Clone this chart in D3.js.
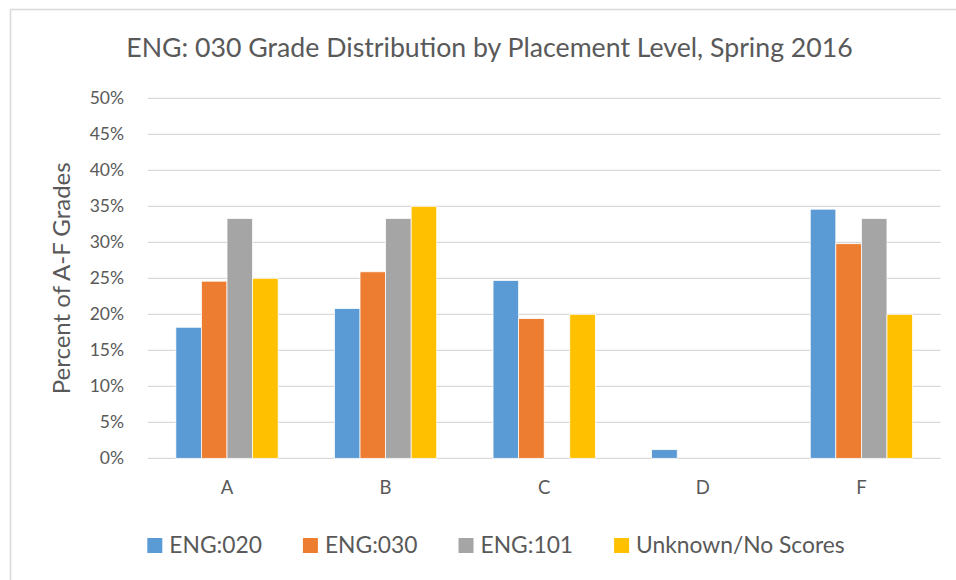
<!DOCTYPE html>
<html>
<head>
<meta charset="utf-8">
<script src="https://cdn.jsdelivr.net/npm/d3@7"></script>
<style>
  body { margin: 0; background: #fff; }
  text { font-family: Lato, "Open Sans", sans-serif; fill: #595959; }
</style>
</head>
<body>
<div id="chart"></div>
<script>
// Datos
var grades = ["A", "B", "C", "D", "F"];
var seriesNames = ["ENG:020", "ENG:030", "ENG:101", "Unknown/No Scores"];
var eng020 = [0.182, 0.208, 0.247, 0.012, 0.346];
var eng030 = [0.246, 0.259, 0.194, 0, 0.298];
var eng101 = [0.333, 0.333, 0, 0, 0.333];
var unknown = [0.25, 0.35, 0.20, 0, 0.20];
var yTicks = [0, 0.05, 0.10, 0.15, 0.20, 0.25, 0.30, 0.35, 0.40, 0.45, 0.50];

var seriesValues = [eng020, eng030, eng101, unknown];
var colors = ["#5B9BD5", "#ED7D31", "#A5A5A5", "#FFC000"];

var W = 956, H = 580;
var margin = {top: 98.3, right: 15.3, bottom: 121.7, left: 147.7};
var width = W - margin.left - margin.right;
var height = H - margin.top - margin.bottom;

var svg = d3.select("#chart").append("svg")
  .attr("width", W)
  .attr("height", H);

svg.append("rect").attr("width", W).attr("height", H).attr("fill", "#fff");

// marco del grafico
svg.append("rect")
  .attr("x", 10.5).attr("y", 9.5)
  .attr("width", W + 20).attr("height", H + 20)
  .attr("fill", "none")
  .attr("stroke", "#d9d9d9")
  .attr("stroke-width", 1.5);

var g = svg.append("g")
  .attr("transform", "translate(" + margin.left + "," + margin.top + ")");

// Escalas
var x0 = d3.scaleBand()
  .domain(grades)
  .range([0, width])
  .paddingInner(0.355)
  .paddingOuter(0.1775);

var x1 = d3.scaleBand()
  .domain(seriesNames)
  .range([0, x0.bandwidth()]);

var y = d3.scaleLinear()
  .domain([0, 0.5])
  .range([height, 0]);

// Lineas de la cuadricula
g.selectAll(".grid")
  .data(yTicks)
  .enter()
  .append("line")
  .attr("x1", 0).attr("x2", width)
  .attr("y1", function(d) { return y(d); })
  .attr("y2", function(d) { return y(d); })
  .attr("stroke", "#d9d9d9")
  .attr("stroke-width", 1.3);

// Eje Y
var yAxis = g.append("g")
  .call(d3.axisLeft(y).tickValues(yTicks).tickFormat(d3.format(".0%")).tickSize(0).tickPadding(23.7));
yAxis.select(".domain").remove();
yAxis.selectAll("text")
  .style("font-size", "17.5px")
  .style("font-family", "Lato, sans-serif")
  .attr("fill", "#595959");

// Eje X
var xAxis = g.append("g")
  .attr("transform", "translate(0," + height + ")")
  .call(d3.axisBottom(x0).tickSize(0).tickPadding(23));
xAxis.select(".domain").remove();
xAxis.selectAll("text")
  .style("font-size", "18.5px")
  .style("font-family", "Lato, sans-serif")
  .attr("fill", "#595959");

// Barras
var groups = g.selectAll(".grade")
  .data(grades)
  .enter()
  .append("g")
  .attr("transform", function(d) { return "translate(" + x0(d) + ",0)"; });

groups.selectAll("rect")
  .data(function(d, i) {
    return seriesNames.map(function(s, j) { return {key: s, value: seriesValues[j][i], idx: j}; });
  })
  .enter()
  .append("rect")
  .attr("x", function(d) { return x1(d.key); })
  .attr("width", x1.bandwidth())
  .attr("y", function(d) { return y(d.value); })
  .attr("height", function(d) { return height - y(d.value); })
  .attr("fill", function(d) { return colors[d.idx]; })
  .attr("stroke", "#fff")
  .attr("stroke-width", 0.75);

// Titulo
svg.append("text")
  .attr("x", 489.5)
  .attr("y", 57)
  .attr("text-anchor", "middle")
  .style("font-size", "26.7px")
  .text("ENG: 030 Grade Distribution by Placement Level, Spring 2016");

// Titulo eje Y
svg.append("text")
  .attr("transform", "translate(70," + (margin.top + height / 2) + ") rotate(-90)")
  .attr("text-anchor", "middle")
  .style("font-size", "24px")
  .text("Percent of A-F Grades");

// Leyenda
var legend = svg.append("g");
var lx = 0;
seriesNames.forEach(function(name, i) {
  var item = legend.append("g").attr("transform", "translate(" + lx + ",0)");
  item.append("rect")
    .attr("x", 0).attr("y", 538)
    .attr("width", 15).attr("height", 15)
    .attr("fill", colors[i]);
  var t = item.append("text")
    .attr("x", 22).attr("y", 553)
    .style("font-size", "22.8px")
    .text(name);
  lx += 22 + t.node().getComputedTextLength() + 41;
});
var legendWidth = lx - 41;
legend.attr("transform", "translate(" + (496 - legendWidth / 2) + ",0)");
</script>
</body>
</html>
